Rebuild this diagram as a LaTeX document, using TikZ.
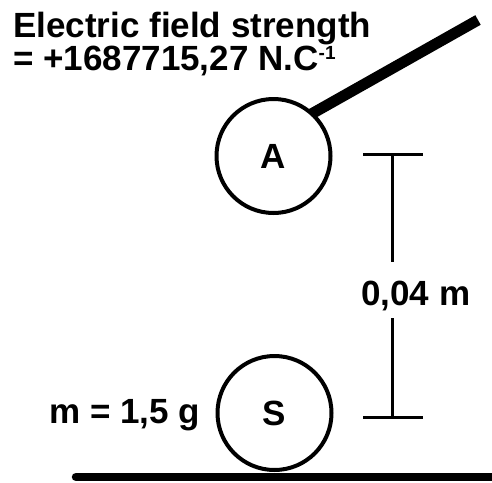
\documentclass[tikz,border=0pt]{standalone}
\usepackage{fontspec}
\setmainfont{Liberation Sans}
\begin{document}
\begin{tikzpicture}[x=1pt,y=-1pt,
  lbl/.style={inner sep=0pt,font=\fontsize{35}{40}\bfseries\selectfont},
  ball/.style={circle,draw,line width=4pt,fill=white,minimum size=114pt,inner sep=0pt},
  dim/.style={line width=3pt}]
\useasboundingbox (0,0) rectangle (492,482);
% ground
\draw[line width=8.5pt,line cap=round] (76,477) -- (496,477);
% rod
\coordinate (rodA) at (300,120.4);
\coordinate (rodB) at (478,20);
\draw[line width=11pt] (rodA) -- (rodB);
% balls
\node[ball,lbl] (A) at (273.5,156) {A};
\node[ball,lbl] (S) at (274.5,413) {S};
% texts
\node[lbl,anchor=base west] (t1) at (13,37) {Electric field strength};
\node[lbl,anchor=base west] (t2) at (13,70) {= +1687715,27 N.C\raisebox{11pt}{\fontsize{19}{22}\selectfont -1}};
\node[lbl,anchor=base west] (m) at (49,423) {m = 1,5 g};
% dimension
\coordinate (dt) at (392,154);
\coordinate (db) at (392,417);
\coordinate (dtl) at (363,154);
\coordinate (dtr) at (423,154);
\coordinate (dbl) at (363,417);
\coordinate (dbr) at (423,417);
\coordinate (g1) at (392,262);
\coordinate (g2) at (392,318);
\draw[dim] (dtl) -- (dtr);
\draw[dim] (dbl) -- (dbr);
\draw[dim] (dt) -- (g1);
\draw[dim] (g2) -- (db);
\node[lbl,anchor=base west] (d) at (361,305) {0,04 m};
\end{tikzpicture}
\end{document}
